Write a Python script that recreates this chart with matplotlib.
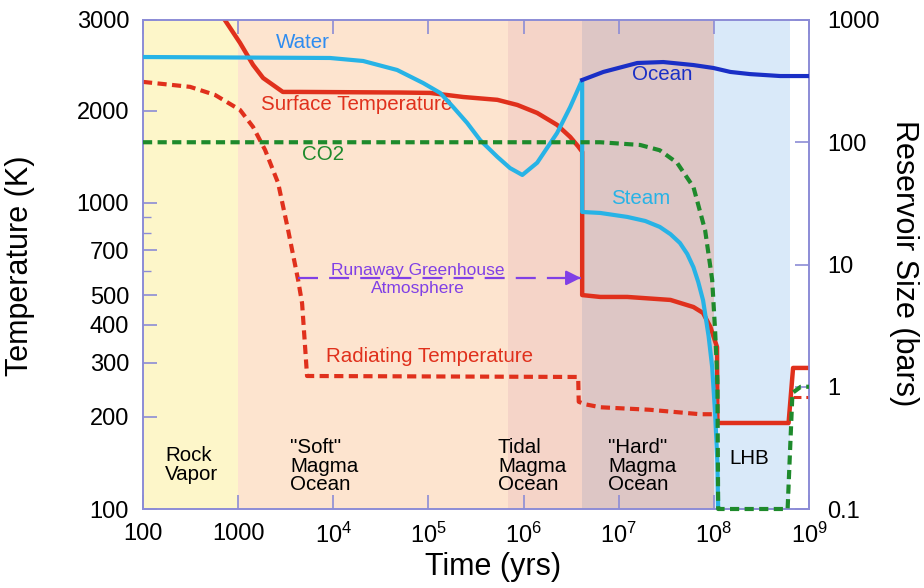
import matplotlib
matplotlib.use('Agg')
import matplotlib.pyplot as plt
from matplotlib.ticker import NullFormatter, NullLocator

plt.rcParams['font.family'] = ['Liberation Sans', 'DejaVu Sans']
plt.rcParams['mathtext.fontset'] = 'custom'
plt.rcParams['mathtext.rm'] = 'Liberation Sans'
plt.rcParams['mathtext.it'] = 'Liberation Sans:italic'

# ---------------- data ----------------
# Surface temperature (K) vs time (yr)
surface_t = [700, 1047, 1435, 1830, 2950, 4460, 5.0e4, 1.04e5, 2.32e5, 5.3e5, 8.6e5,
             1.39e6, 2.25e6, 3.09e6, 3.75e6, 4.13e6, 4.13e6, 6.4e6, 1.23e7, 3.5e7,
             6.1e7, 7.7e7, 9.2e7, 1.08e8, 1.09e8, 6.1e8, 6.8e8, 1e9]
surface_T = [4025, 3333, 2825, 2560, 2305, 2305, 2295, 2288, 2219, 2172, 2090,
             1968, 1799, 1643, 1530, 1470, 500, 493, 493, 482,
             457, 437, 393, 338, 191, 191, 289, 289]

# Radiating temperature (K)
radiating_t = [100, 312, 571, 1047, 1435, 1919, 2630, 3350, 4270, 4700, 5050, 5300,
               3.75e6, 3.8e6, 4.4e6, 6.4e6, 2.1e7, 7.2e7, 9.6e7]
radiating_T = [2486, 2395, 2254, 2013, 1771, 1490, 1162, 816, 560, 470, 340, 272,
               270, 224, 220, 215, 211, 204, 204]
radiating_late_t = [6.8e8, 1e9]
radiating_late_T = [232, 232]

# Water / steam reservoir (bars)
water_t = [100, 9250, 2.06e4, 4.69e4, 8.8e4, 1.33e5, 1.82e5, 2.55e5, 3.5e5, 5.3e5,
           7.2e5, 9.7e5, 1.39e6, 2.25e6, 3.09e6, 4.13e6]
water_b = [498, 489, 462, 390, 305, 253, 194, 144, 104, 76,
           61.5, 54, 68, 119, 194, 323]
steam_t = [4.13e6, 6.4e6, 1.23e7, 1.9e7, 2.7e7, 3.5e7, 4.4e7, 5.25e7, 6.1e7, 6.85e7,
           7.7e7, 8.8e7, 9.6e7, 1.03e8, 1.09e8, 1.11e8]
steam_b = [26.9, 26.4, 24.5, 22.7, 20.3, 17.7, 15, 12.2, 9.5, 7.2,
           5.1, 2.6, 1.45, 0.61, 0.24, 0.1]

# Ocean (bars)
ocean_t = [4.13e6, 6.9e6, 1.57e7, 2.94e7, 6.1e7, 9.9e7, 1.49e8, 2.4e8, 5e8, 1e9]
ocean_b = [323, 376, 445, 453, 428, 405, 376, 361, 348, 348]

# CO2 (bars)
co2_t = [100, 6.4e6, 1.68e7, 2.7e7, 4.1e7, 6.1e7, 8.1e7, 9.6e7, 1.03e8, 1.09e8,
         1.10e8, 1.11e8, 5.96e8, 6.7e8, 8.2e8, 1e9]
co2_b = [100, 100, 95, 86, 68, 43, 19, 7.5, 2.9, 1.13, 0.32, 0.1, 0.1, 0.89, 1.0, 1.0]

# Runaway greenhouse arrow (time span, temperature level)
arrow_t = [4270, 4.0e6]
arrow_T = [569, 569]

# Eras
era_edges = [100, 1000, 6.9e5, 4.13e6, 1.0e8, 6.3e8]
era_labels = ['Rock\nVapor', '"Soft"\nMagma\nOcean', 'Tidal\nMagma\nOcean',
              '"Hard"\nMagma\nOcean', 'LHB']
era_colors = ['#fdf6c9', '#fde4cf', '#f5d4c8', '#ddc6c5', '#d9e9f9']

# Axes ticks
time_ticks = [100, 1e3, 1e4, 1e5, 1e6, 1e7, 1e8, 1e9]
time_labels = ['100', '1000', r'$10^{4}$', r'$10^{5}$', r'$10^{6}$', r'$10^{7}$',
               r'$10^{8}$', r'$10^{9}$']
temp_ticks = [100, 200, 300, 400, 500, 700, 1000, 2000, 3960]
temp_labels = ['100', '200', '300', '400', '500', '700', '1000', '2000', '3000']
temp_minor = [600, 800, 900]
res_ticks = [0.1, 1, 10, 100, 1000]
res_labels = ['0.1', '1', '10', '100', '1000']

# ---------------- style ----------------
RED = '#e0301c'
CYAN = '#27b3e6'
BLUE = '#1a2fc6'
GREEN = '#1e8a2c'
PURPLE = '#8040e6'
SPINE = '#8c8cd6'

W, H = 924, 588
AX_L, AX_R, AX_T, AX_B = 143, 809, 20, 509

fig = plt.figure(figsize=(W / 100, H / 100), dpi=100)
ax = fig.add_axes([AX_L / W, (H - AX_B) / H, (AX_R - AX_L) / W, (AX_B - AX_T) / H])


def px(x, y):
    return ((x - AX_L) / (AX_R - AX_L), (AX_B - y) / (AX_B - AX_T))


ax.set_xscale('log')
ax.set_yscale('log')
ax.set_xlim(time_ticks[0], time_ticks[-1])
ax.set_ylim(temp_ticks[0], temp_ticks[-1])

for i, c in enumerate(era_colors):
    ax.axvspan(era_edges[i], era_edges[i + 1], color=c, lw=0, zorder=0)

ax2 = ax.twinx()
ax2.set_yscale('log')
ax2.set_ylim(res_ticks[0], res_ticks[-1])

# temperature lines
ax.plot(surface_t, surface_T, color=RED, lw=3.2, solid_joinstyle='round', zorder=3)
ax.plot(radiating_t, radiating_T, color=RED, lw=3.0, dashes=(2.2, 1.3), zorder=3)
ax.plot(radiating_late_t, radiating_late_T, color=RED, lw=2.2, dashes=(2.6, 1.6), zorder=3)

# arrow
ax.plot(arrow_t, arrow_T, color=PURPLE, lw=1.6, dashes=(9, 5), zorder=3)
ax.annotate('', xy=(arrow_t[1], arrow_T[1]), xytext=(arrow_t[1] * 0.75, arrow_T[1]),
            arrowprops=dict(arrowstyle='-|>', color=PURPLE, lw=1.6,
                            mutation_scale=22, shrinkA=0, shrinkB=0), zorder=3)

# reservoir lines
ax2.plot(water_t + steam_t, water_b + steam_b, color=CYAN, lw=3.0,
         solid_joinstyle='round', zorder=3)
ax2.plot(ocean_t, ocean_b, color=BLUE, lw=3.0, solid_joinstyle='round', zorder=3)
ax2.plot(co2_t, co2_b, color=GREEN, lw=3.0, dashes=(2.2, 1.3), zorder=4, clip_on=False)

# labels on lines
fs = 14.8
ax.text(*px(303, 43), 'Water', transform=ax.transAxes, color='#2e8cf0', fontsize=fs, ha='center', va='center')
ax.text(*px(357, 105), 'Surface Temperature', transform=ax.transAxes, color=RED, fontsize=fs, ha='center', va='center')
ax.text(*px(323, 155), 'CO2', transform=ax.transAxes, color=GREEN, fontsize=fs, ha='center', va='center')
ax.text(*px(662, 75), 'Ocean', transform=ax.transAxes, color=BLUE, fontsize=fs, ha='center', va='center')
ax.text(*px(641, 198), 'Steam', transform=ax.transAxes, color=CYAN, fontsize=fs, ha='center', va='center')
ax.text(*px(430, 357), 'Radiating Temperature', transform=ax.transAxes, color=RED, fontsize=fs, ha='center', va='center')
ax.text(*px(418, 271), 'Runaway Greenhouse', transform=ax.transAxes, color=PURPLE, fontsize=12.5, ha='center', va='center')
ax.text(*px(418, 288), 'Atmosphere', transform=ax.transAxes, color=PURPLE, fontsize=12.5, ha='center', va='center')

era_pos = [(165, 465), (290, 466), (498, 466), (608, 466), (729, 458)]
for (x, y), lab in zip(era_pos, era_labels):
    ax.text(*px(x, y), lab, transform=ax.transAxes, color='black', fontsize=fs,
            ha='left', va='center', linespacing=0.95)

# ticks
ax.set_xticks(time_ticks)
ax.set_xticklabels(time_labels)
ax.xaxis.set_minor_locator(NullLocator())
ax.set_yticks(temp_ticks)
ax.set_yticklabels(temp_labels)
ax.set_yticks(temp_minor, minor=True)
ax.yaxis.set_minor_formatter(NullFormatter())
ax.tick_params(axis='x', which='major', direction='in', top=True, bottom=True,
               length=10, width=1.2, color=SPINE, labelsize=17, pad=10)
ax.tick_params(axis='y', which='major', direction='in', length=10, width=1.2,
               color=SPINE, labelsize=17, pad=10)
ax.tick_params(axis='y', which='minor', direction='in', length=6, width=1.0, color=SPINE)

ax2.set_yticks(res_ticks)
ax2.set_yticklabels(res_labels)
ax2.yaxis.set_minor_locator(NullLocator())
ax2.tick_params(axis='y', which='major', direction='in', length=10, width=1.2,
                color=SPINE, labelsize=17, pad=13)

for a in (ax, ax2):
    for s in a.spines.values():
        s.set_color(SPINE)
        s.set_linewidth(1.2)

# axis labels
ax.set_xlabel('Time (yrs)', fontsize=22)
ax.xaxis.set_label_coords(*px(493, 567))
ax.xaxis.label.set_va('center')
ax.set_ylabel('Temperature (K)', fontsize=22)
ax.yaxis.set_label_coords(*px(20, 266))
ax.yaxis.label.set_va('center')
ax2.set_ylabel('Reservoir Size (bars)', fontsize=22, rotation=270)
ax2.yaxis.set_label_coords(*px(904, 263))
ax2.yaxis.label.set_va('center')

fig.savefig('out.png', dpi=100)
